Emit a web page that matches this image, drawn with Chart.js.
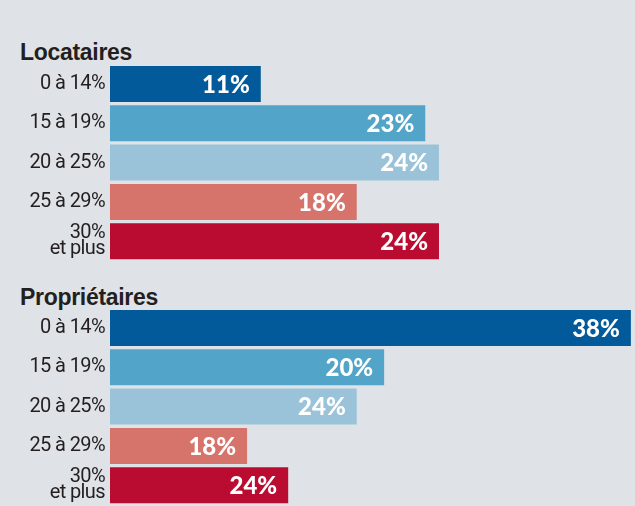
<!DOCTYPE html>
<html>
<head>
<meta charset="utf-8">
<script src="https://cdn.jsdelivr.net/npm/chart.js@4"></script>
<style>
  html, body { margin: 0; padding: 0; }
  body { width: 635px; height: 506px; overflow: hidden; background: #dfe3e7; position: relative; }
  .head { position: absolute; left: 20px; font: bold 23px "Liberation Sans", Arial, sans-serif; color: #231f20; line-height: 1; letter-spacing: -0.3px; }
  canvas { position: absolute; left: 0; }
</style>
</head>
<body>
<div class="head" style="top:41px">Locataires</div>
<div class="head" style="top:286px">Propriétaires</div>
<canvas id="chartLoc" width="635" height="205" style="top:60px"></canvas>
<canvas id="chartProp" width="635" height="205" style="top:304px"></canvas>
<script>
// tranches of taux d'effort
const categories = ['0 à 14%', '15 à 19%', '20 à 25%', '25 à 29%', ['30%', 'et plus']];
const barColors = ['#035a9a', '#52a5c8', '#9ac3da', '#d6736a', '#ba0c30'];

// Locataires
const locataires = [11, 23, 24, 18, 24];
const locatairesLabels = ['11%', '23%', '24%', '18%', '24%'];

// Propriétaires : bar lengths as drawn, printed labels as printed
const proprietaires = [38, 20, 18, 10, 13];
const proprietairesLabels = ['38%', '20%', '24%', '18%', '24%'];

const xMax = 38.3;

// tighter letters for the condensed tick labels
const tightText = {
  id: 'tightText',
  beforeDraw(chart) {
    chart.ctx.letterSpacing = '-0.6px';
  }
};

// draws the white value inside the end of each bar
const valueLabels = {
  id: 'valueLabels',
  afterDatasetsDraw(chart, args, opts) {
    const ctx = chart.ctx;
    const meta = chart.getDatasetMeta(0);
    ctx.save();
    ctx.letterSpacing = '0px';
    ctx.fillStyle = '#ffffff';
    ctx.font = '900 24px Lato, "Liberation Sans", sans-serif';
    ctx.textAlign = 'right';
    ctx.textBaseline = 'middle';
    meta.data.forEach((bar, i) => {
      ctx.fillText(opts.labels[i], bar.x - 11, bar.y + 1);
    });
    ctx.restore();
  }
};

function makeChart(id, values, labels) {
  const ctx = document.getElementById(id);
  return new Chart(ctx, {
    type: 'bar',
    data: {
      labels: categories,
      datasets: [{
        data: values,
        backgroundColor: barColors,
        borderWidth: 0,
        barPercentage: 1,
        categoryPercentage: 0.916
      }]
    },
    options: {
      indexAxis: 'y',
      responsive: false,
      animation: false,
      layout: { padding: { top: 4.35, bottom: 4.15, left: 0, right: 0 } },
      plugins: {
        legend: { display: false },
        tooltip: { enabled: false },
        valueLabels: { labels: labels }
      },
      scales: {
        x: { display: false, min: 0, max: xMax },
        y: {
          grid: { display: false, drawTicks: false },
          border: { display: false },
          ticks: {
            padding: 5,
            color: '#231f20',
            font: { family: 'Roboto, "Liberation Sans", sans-serif', size: 20, lineHeight: 0.8 }
          },
          afterFit(scale) {
            scale.width = 110;
            scale.paddingTop = 0;
            scale.paddingBottom = 0;
          }
        }
      }
    },
    plugins: [tightText, valueLabels]
  });
}

makeChart('chartLoc', locataires, locatairesLabels);
makeChart('chartProp', proprietaires, proprietairesLabels);
</script>
</body>
</html>
